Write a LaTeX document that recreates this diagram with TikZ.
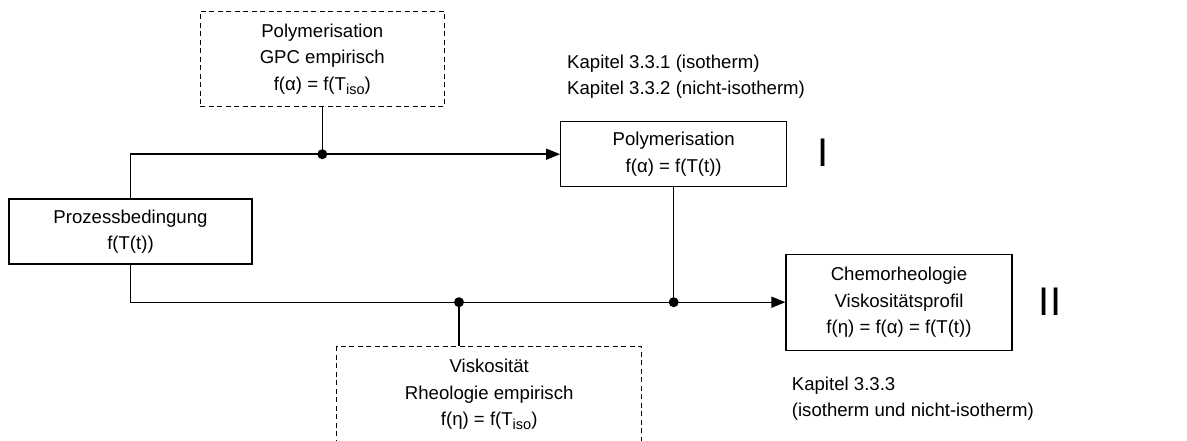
\documentclass[tikz,border=0pt]{standalone}
\usepackage{fontspec}
\setmainfont{Liberation Sans}
\usetikzlibrary{arrows.meta}
\newcommand{\sbs}[1]{\raisebox{-0.4ex}{\fontsize{14.5}{14.5}\selectfont #1}}
\begin{document}
\begin{tikzpicture}[x=1pt,y=-1pt,
  every node/.style={font=\fontsize{18.6}{26.5}\selectfont, text=black},
  solidbox/.style={draw=black, line width=1.2pt, inner sep=0pt, align=center},
  dashbox/.style={draw=black, line width=1.2pt, inner sep=0pt, align=center, dash pattern=on 5pt off 3.5pt},
  conn/.style={draw=black, line width=1.4pt},
  arr/.style={conn, -{Triangle[length=14pt,width=11pt]}},
  dot/.style={fill=black},
  roman/.style={font=\fontsize{40}{40}\selectfont, anchor=base, inner sep=0pt},
  note/.style={align=left, anchor=base west, inner sep=0pt}
]
\useasboundingbox (0,0) rectangle (1187,441);
\begin{scope}
\clip (0,0) rectangle (1187,441);
\node[dashbox, minimum width=244pt, minimum height=95.5pt] (tbox) at (322.3,59) {Polymerisation\\GPC empirisch\\f(α) = f(T\sbs{iso})};
\node[solidbox, minimum width=226pt, minimum height=65pt] (poly) at (673.7,154.2) {Polymerisation\\f(α) = f(T(t))};
\node[solidbox, minimum width=243pt, minimum height=65pt] (proz) at (130.5,231.5) {Prozessbedingung\\f(T(t))};
\node[solidbox, minimum width=226pt, minimum height=96pt] (chemo) at (899,302.2) {Chemorheologie\\Viskositätsprofil\\f(η) = f(α) = f(T(t))};
\node[dashbox, minimum width=305pt, minimum height=96pt] (bbox) at (489.2,394.7) {Viskosität\\Rheologie empirisch\\f(η) = f(T\sbs{iso})};

\node[note] (k1) at (567,69) {Kapitel 3.3.1 (isotherm)};
\node[note] (k2) at (567,95) {Kapitel 3.3.2 (nicht-isotherm)};
\node[note] (k3) at (791.7,390) {Kapitel 3.3.3};
\node[note] (k4) at (791.7,416) {(isotherm und nicht-isotherm)};
\node[roman] (r1) at (822.7,167) {I};
\node[roman] (r2) at (1050,315) {II};

\coordinate (d1) at (tbox.south |- poly.west);
\coordinate (d2) at (459,0 |- chemo.west);
\coordinate (d3) at (poly.south |- chemo.west);

\draw[arr] (proz.north) |- (poly.west);
\draw[arr] (proz.south) |- (chemo.west);
\draw[conn] (tbox.south) -- (d1);
\draw[conn] (poly.south) -- (d3);
\draw[conn] (d2) -- (d2 |- bbox.north);
\fill[dot] (d1) circle (5pt);
\fill[dot] (d2) circle (5pt);
\fill[dot] (d3) circle (5pt);
\end{scope}
\end{tikzpicture}
\end{document}
